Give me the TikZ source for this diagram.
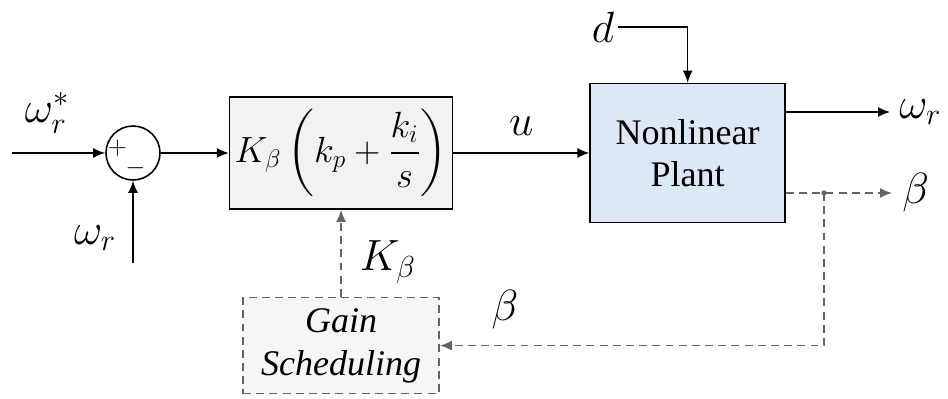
\documentclass[tikz,border=0pt]{standalone}
\usepackage{amsmath}
\usepackage{fontspec}
\setmainfont{Liberation Serif}
\usepackage{tikz}
\usetikzlibrary{arrows.meta,positioning,calc}
\definecolor{plantblue}{RGB}{220,232,245}
\definecolor{ctrlgray}{RGB}{242,242,242}
\definecolor{gaingray}{RGB}{246,246,246}
\definecolor{dashgray}{RGB}{100,100,100}
\tikzset{
  sumnode/.style={draw, circle, line width=0.9pt, minimum size=1.08cm, inner sep=0pt},
  ctrlbox/.style={draw, fill=ctrlgray, line width=0.9pt, minimum width=4.46cm, minimum height=2.24cm, inner sep=0pt, font=\fontsize{20.5}{24}\selectfont},
  plantbox/.style={draw, fill=plantblue, line width=0.9pt, minimum width=3.9cm, minimum height=2.78cm, align=center, font=\fontsize{20.5}{24}\selectfont},
  gainbox/.style={draw=dashgray, dash pattern=on 4.5pt off 3pt, line width=0.9pt, fill=gaingray, minimum width=3.92cm, minimum height=1.92cm, align=center, font=\itshape\fontsize{20.5}{24.5}\selectfont},
  signbox/.style={inner sep=0pt, font=\fontsize{15}{17}\selectfont},
  siglabel/.style={inner sep=0pt, font=\fontsize{25}{28}\selectfont},
  sigarrow/.style={-{Latex[length=0.24cm,width=0.2cm]}, line width=0.9pt},
  dasharrow/.style={-{Latex[length=0.24cm,width=0.2cm]}, line width=0.9pt, draw=dashgray, dash pattern=on 4.5pt off 3pt}
}

\begin{document}
\begin{tikzpicture}
    \useasboundingbox (0,0) rectangle (18.96,-7.98);
    % blocks
    \node[sumnode] (sum) at (2.66,-3.06) {};
    \node[ctrlbox, right=1.36cm of sum] (ctrl) {$K_\beta\left(k_p+\dfrac{k_i}{s}\right)$};
    \node[plantbox, right=2.72cm of ctrl] (plant) {Nonlinear\\Plant};
    \node[gainbox, below=1.74cm of ctrl] (gain) {Gain\\Scheduling};
    \node[signbox] (plus) at ($(sum.center)+(-0.31,0.1)$) {$+$};
    \node[signbox] (minus) at ($(sum.center)+(0.05,-0.3)$) {$-$};
    % signals
    \coordinate (refin) at (0.24,-3.06);
    \coordinate (fbin) at (2.66,-5.26);
    \coordinate (tap) at (16.48,-3.86);
    \node[siglabel] (wref) at (0.94,-2.26) {$\omega_r^*$};
    \node[siglabel] (wfb) at (1.9,-4.76) {$\omega_r$};
    \node[siglabel, inner sep=0.08cm] (dlab) at (12.06,-0.54) {$d$};
    \node[siglabel, anchor=west, inner sep=0.18cm] (wout) at (17.8,-2.24) {$\omega_r$};
    \node[siglabel, anchor=west, inner sep=0.2cm] (bout) at (17.84,-3.86) {$\beta$};
    \node[siglabel] (bfb) at (10.1,-6.2) {$\beta$};
    \draw[sigarrow] (refin) -- (sum.west);
    \draw[sigarrow] (fbin) -- (sum.south);
    \draw[sigarrow] (sum.east) -- (ctrl.west);
    \draw[sigarrow] (ctrl.east) -- (plant.west) node[siglabel, midway, above=0.33cm] (ulab) {$u$};
    \draw[sigarrow] (dlab.east) -| (plant.north);
    \draw[sigarrow] (plant.east |- wout.west) -- (wout.west);
    \draw[dasharrow] (plant.east |- bout.west) -- (bout.west);
    \fill[dashgray] (tap) circle (1.5pt);
    \draw[dasharrow] (tap) |- (gain.east);
    \draw[dasharrow] (gain.north) -- (ctrl.south) node[siglabel, midway, right=0.36cm, yshift=-0.17cm] (klab) {$K_\beta$};
\end{tikzpicture}
\end{document}
